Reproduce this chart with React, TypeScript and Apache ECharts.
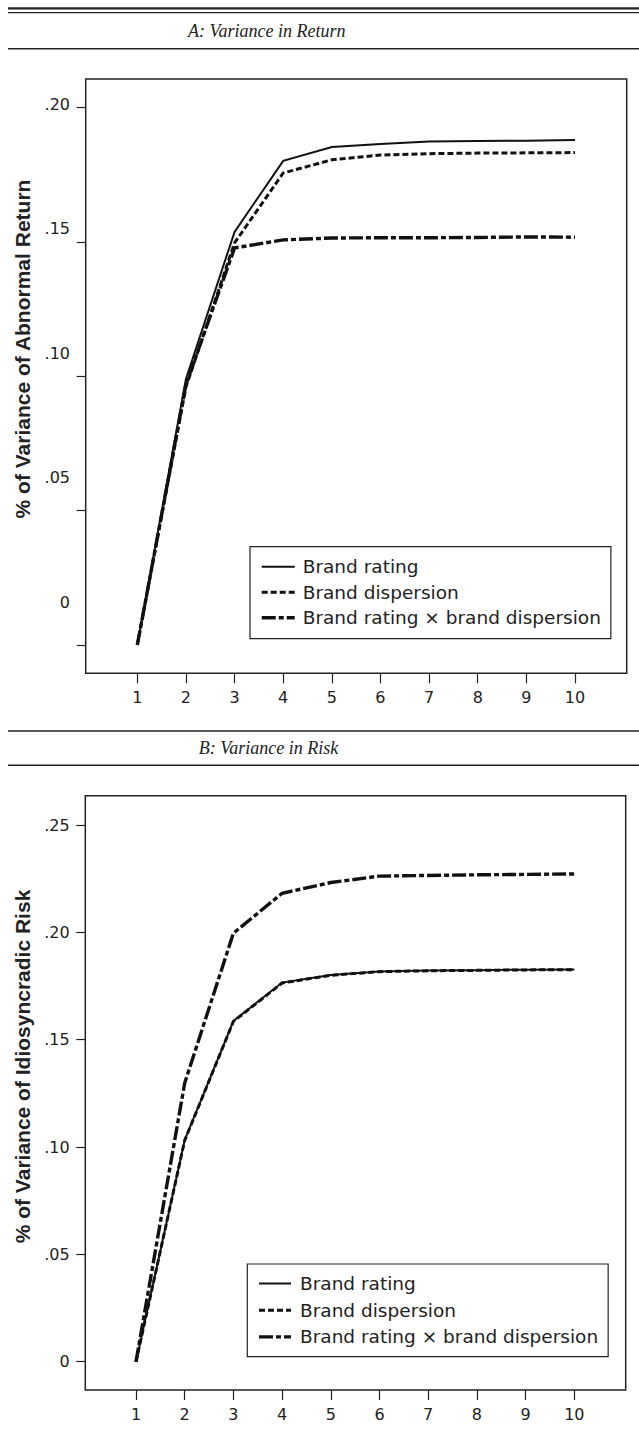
import React, { useEffect, useRef } from "react";
import * as echarts from "echarts";

// ---- data ----
const periods = [1, 2, 3, 4, 5, 6, 7, 8, 9, 10];
const seriesNames = ["Brand rating", "Brand dispersion", "Brand rating \u00d7 brand dispersion"];

// Panel A: Variance in Return
const returnBrandRating = [0.0, 0.099, 0.1538, 0.1802, 0.1854, 0.1865, 0.1874, 0.1876, 0.1877, 0.188];
const returnBrandDispersion = [0.0, 0.096, 0.1497, 0.1757, 0.1806, 0.1824, 0.1829, 0.1831, 0.1832, 0.1833];
const returnInteraction = [0.0, 0.097, 0.1478, 0.1508, 0.1515, 0.1516, 0.1516, 0.1517, 0.1519, 0.1518];

// Panel B: Variance in Risk
const riskBrandRating = [0.0, 0.1033, 0.1587, 0.1766, 0.1801, 0.1818, 0.1822, 0.1824, 0.1826, 0.1827];
const riskBrandDispersion = [0.0, 0.1031, 0.1585, 0.1764, 0.18, 0.1817, 0.1821, 0.1823, 0.1825, 0.1826];
const riskInteraction = [0.0, 0.1298, 0.1996, 0.2182, 0.2232, 0.2262, 0.2265, 0.2268, 0.227, 0.2272];

const yTicksA = [0, 0.05, 0.1, 0.15, 0.2];
const yTicksB = [0, 0.05, 0.1, 0.15, 0.2, 0.25];

const panelTitles = ["A: Variance in Return", "B: Variance in Risk"];
const yAxisTitles = ["% of Variance of Abnormal Return", "% of Variance of Idiosyncradic Risk"];

// ---- styles ----
const INK = "#222";
const LINE = "#111";
const SANS = "DejaVu Sans";
const lineStyles = [
  { width: 2, type: "solid" as any },
  { width: 3, type: [6, 3] as any },
  { width: 3.4, type: [14, 3, 5, 3] as any },
];

const fmtY = (v: number) => (v === 0 ? "0" : v.toFixed(2).replace(/^0/, ""));

function makeSeries(arrs: number[][], xAxisIndex: number, yAxisIndex: number) {
  return arrs.map((arr, k) => ({
    type: "line",
    name: seriesNames[k],
    xAxisIndex,
    yAxisIndex,
    data: periods.map((p, i) => [p, arr[i]]),
    symbol: "none",
    showSymbol: false,
    lineStyle: { color: LINE, width: lineStyles[k].width, type: lineStyles[k].type, cap: "butt", join: "miter" },
    itemStyle: { color: LINE },
    z: 3 - k,
  }));
}

export default function App() {
  const ref = useRef<HTMLDivElement>(null);
  useEffect(() => {
    if (!ref.current) return;
    const chart = echarts.init(ref.current, undefined, { renderer: "svg" });

    const xAxisBase = (gridIndex: number, min: number, max: number) => ({
      type: "value",
      gridIndex,
      position: "bottom",
      min,
      max,
      axisLine: { show: false, onZero: false },
      splitLine: { show: false },
      axisTick: {
        show: true,
        inside: false,
        length: 10,
        customValues: periods,
        lineStyle: { color: INK, width: 1.2 },
      },
      axisLabel: {
        show: true,
        customValues: periods,
        margin: 16,
        fontFamily: SANS,
        fontSize: 16,
        lineHeight: 16,
        color: INK,
      },
    });

    const legendData = seriesNames.map((name, k) => ({
      name,
      lineStyle: { width: lineStyles[k].width, type: lineStyles[k].type, color: LINE, cap: "butt" },
    }));

    const legendBase = {
      orient: "vertical",
      itemWidth: 33,
      itemHeight: 14,
      borderColor: INK,
      borderWidth: 1.2,
      backgroundColor: "#fff",
      data: legendData,
      selectedMode: false,
      itemStyle: { color: "transparent", borderColor: "transparent", borderWidth: 0, opacity: 0 },
    };

    const option: any = {
      animation: false,
      backgroundColor: "#fff",
      grid: [
        { left: 85.7, top: 79, width: 541, height: 594.3, show: true, borderColor: INK, borderWidth: 1.5, backgroundColor: "transparent" },
        { left: 85.3, top: 795.7, width: 540.4, height: 594.3, show: true, borderColor: INK, borderWidth: 1.5, backgroundColor: "transparent" },
      ],
      xAxis: [xAxisBase(0, -0.061, 11.063), xAxisBase(1, -0.041, 11.055)],
      yAxis: [
        // Panel A tick axis
        {
          type: "value",
          gridIndex: 0,
          position: "left",
          min: -0.01054,
          max: 0.21069,
          axisLine: { show: false, onZero: false },
          splitLine: { show: false },
          axisTick: { show: true, length: 9, customValues: yTicksA, lineStyle: { color: INK, width: 1.2 } },
          axisLabel: { show: false },
        },
        // Panel A label axis (labels in the original are spaced slightly tighter than ticks)
        {
          type: "value",
          gridIndex: 0,
          position: "left",
          min: -0.02863,
          max: 0.21004,
          axisLine: { show: false, onZero: false },
          splitLine: { show: false },
          axisTick: { show: false },
          axisLabel: {
            show: true,
            customValues: yTicksA,
            margin: 15.7,
            formatter: fmtY,
            fontFamily: SANS,
            fontSize: 16,
            color: INK,
          },
        },
        // Panel B
        {
          type: "value",
          gridIndex: 1,
          position: "left",
          min: -0.01318,
          max: 0.26365,
          axisLine: { show: false, onZero: false },
          splitLine: { show: false },
          axisTick: { show: true, length: 9, customValues: yTicksB, lineStyle: { color: INK, width: 1.2 } },
          axisLabel: {
            show: true,
            customValues: yTicksB,
            margin: 15.7,
            formatter: fmtY,
            fontFamily: SANS,
            fontSize: 16,
            color: INK,
          },
        },
      ],
      legend: [
        {
          ...legendBase,
          left: 250,
          top: 546.7,
          padding: [9, 10, 10, 10],
          itemGap: 3.5,
          textStyle: { fontFamily: SANS, fontSize: 18.5, lineHeight: 22, color: INK, padding: [0, 0, 0, 3] },
        },
        {
          ...legendBase,
          left: 247.3,
          top: 1264,
          padding: [8.5, 10, 8.8, 10],
          itemGap: 4.7,
          itemWidth: 32,
          textStyle: { fontFamily: SANS, fontSize: 18.5, lineHeight: 22, color: INK, padding: [0, 0, 0, 4] },
        },
      ],
      graphic: [
        { type: "line", shape: { x1: 8, y1: 8.3, x2: 639, y2: 8.3 }, style: { stroke: INK, lineWidth: 2.2 } },
        { type: "line", shape: { x1: 8, y1: 12.7, x2: 639, y2: 12.7 }, style: { stroke: INK, lineWidth: 1.3 } },
        { type: "line", shape: { x1: 8, y1: 48.7, x2: 639, y2: 48.7 }, style: { stroke: INK, lineWidth: 1.5 } },
        { type: "line", shape: { x1: 8, y1: 731, x2: 639, y2: 731 }, style: { stroke: INK, lineWidth: 1.5 } },
        { type: "line", shape: { x1: 8, y1: 765.3, x2: 639, y2: 765.3 }, style: { stroke: INK, lineWidth: 1.5 } },
        {
          type: "text",
          x: 266.7,
          y: 31,
          style: { text: panelTitles[0], fontFamily: "Liberation Serif", fontStyle: "italic", fontSize: 18, align: "center", verticalAlign: "middle", fill: INK },
        },
        {
          type: "text",
          x: 268.5,
          y: 748,
          style: { text: panelTitles[1], fontFamily: "Liberation Serif", fontStyle: "italic", fontSize: 18, align: "center", verticalAlign: "middle", fill: INK },
        },
        {
          type: "text",
          x: 22.5,
          y: 349,
          rotation: Math.PI / 2,
          style: { text: yAxisTitles[0], fontFamily: "Liberation Sans", fontWeight: "bold", fontSize: 21, align: "center", verticalAlign: "middle", fill: INK },
        },
        {
          type: "text",
          x: 22.5,
          y: 1066.5,
          rotation: Math.PI / 2,
          style: { text: yAxisTitles[1], fontFamily: "Liberation Sans", fontWeight: "bold", fontSize: 21, align: "center", verticalAlign: "middle", fill: INK },
        },
      ],
      series: [
        ...makeSeries([returnBrandRating, returnBrandDispersion, returnInteraction], 0, 0),
        ...makeSeries([riskBrandRating, riskBrandDispersion, riskInteraction], 1, 2),
      ],
    };
    chart.setOption(option);
    return () => chart.dispose();
  }, []);
  return (
    <div
      ref={ref}
      style={{ position: "absolute", left: 0, top: 0, width: 639, height: 1445, background: "#fff" }}
    />
  );
}
